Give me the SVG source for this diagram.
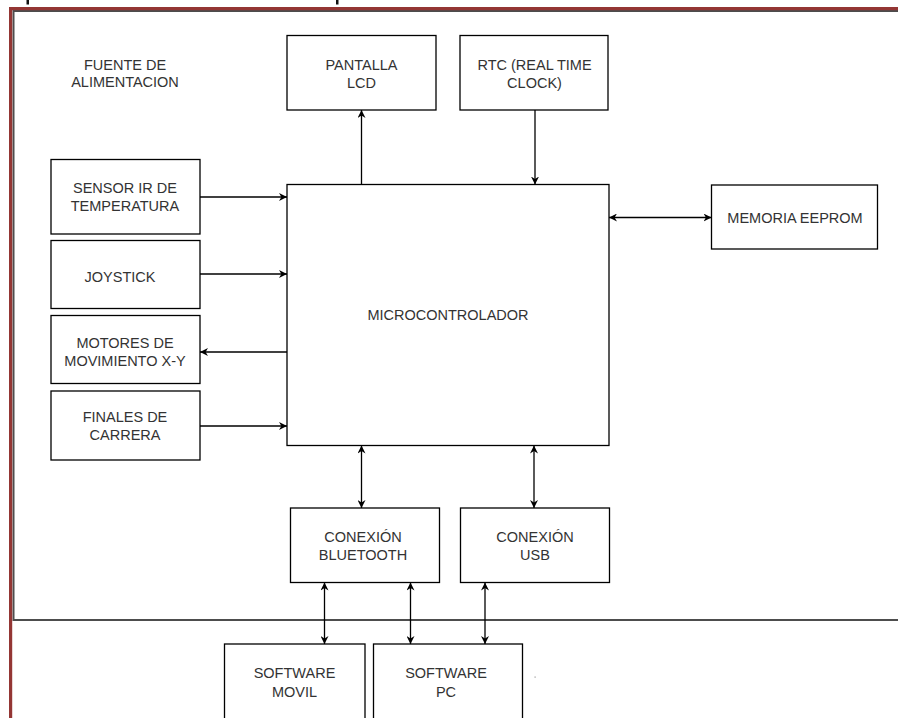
<svg xmlns="http://www.w3.org/2000/svg" width="898" height="718" viewBox="0 0 898 718">
<style>
.box{fill:#fff;stroke:#000;stroke-width:1.3}
.t{font-family:"Liberation Sans",Arial,sans-serif;font-size:14.5px;fill:#333;text-anchor:middle}
.c{fill:none;stroke:#000;stroke-width:1.3}
</style>
<defs>
<marker id="ah" viewBox="0 0 10 10" refX="10" refY="5" markerWidth="8" markerHeight="8" markerUnits="userSpaceOnUse" orient="auto-start-reverse">
<path d="M0,0 L10,5 L0,10 L3,5 z" fill="#000"/>
</marker>
</defs>
<rect width="898" height="718" fill="#fff"/>
<g id="frame">
<rect x="26.5" y="0" width="2.5" height="4.5" fill="#111"/>
<rect x="336" y="0" width="2.5" height="4.5" fill="#111"/>
<path d="M898 11 H13.5 V620 H898" fill="none" stroke="#4d4d4d" stroke-width="2"/>
<rect x="9" y="7" width="889" height="3.2" fill="#943634"/>
<rect x="9" y="7" width="3.2" height="711" fill="#943634"/>
<rect x="534.5" y="676.5" width="1.2" height="1.2" fill="#999"/>
</g>
<g id="fuente">
<text class="t" x="125" y="69.5">FUENTE DE</text>
<text class="t" x="125" y="87">ALIMENTACION</text>
</g>
<g id="lcd">
<rect class="box" x="287" y="35.5" width="149" height="74.5"/>
<text class="t" x="361.5" y="69.5">PANTALLA</text>
<text class="t" x="361.5" y="88">LCD</text>
</g>
<g id="rtc">
<rect class="box" x="460" y="35.5" width="148" height="74.5"/>
<text class="t" x="534.5" y="69.5">RTC (REAL TIME</text>
<text class="t" x="534.5" y="88">CLOCK)</text>
</g>
<g id="micro">
<rect class="box" x="287" y="184.5" width="322" height="261"/>
<text class="t" x="448" y="320">MICROCONTROLADOR</text>
</g>
<g id="eeprom">
<rect class="box" x="711.5" y="185" width="166" height="64"/>
<text class="t" x="795" y="222.5">MEMORIA EEPROM</text>
</g>
<g id="sensor">
<rect class="box" x="51" y="159.5" width="149" height="74.5"/>
<text class="t" x="125" y="192.5">SENSOR IR DE</text>
<text class="t" x="125" y="211">TEMPERATURA</text>
</g>
<g id="joystick">
<rect class="box" x="51" y="240.5" width="149" height="68"/>
<text class="t" x="120" y="282">JOYSTICK</text>
</g>
<g id="motores">
<rect class="box" x="51" y="315.5" width="149" height="68"/>
<text class="t" x="125" y="348">MOTORES DE</text>
<text class="t" x="125" y="366">MOVIMIENTO X-Y</text>
</g>
<g id="finales">
<rect class="box" x="51" y="391" width="149" height="69"/>
<text class="t" x="125" y="422">FINALES DE</text>
<text class="t" x="125" y="439.5">CARRERA</text>
</g>
<g id="bluetooth">
<rect class="box" x="290.5" y="508" width="149" height="74.5"/>
<text class="t" x="363" y="542">CONEXIÓN</text>
<text class="t" x="363" y="559.5">BLUETOOTH</text>
</g>
<g id="usb">
<rect class="box" x="460.5" y="508" width="149" height="74.5"/>
<text class="t" x="535" y="542">CONEXIÓN</text>
<text class="t" x="535" y="559.5">USB</text>
</g>
<g id="movil">
<rect class="box" x="224.5" y="644" width="140.5" height="80"/>
<text class="t" x="294.5" y="678">SOFTWARE</text>
<text class="t" x="294.5" y="697">MOVIL</text>
</g>
<g id="pc">
<rect class="box" x="373.5" y="644" width="149" height="80"/>
<text class="t" x="446" y="678">SOFTWARE</text>
<text class="t" x="446" y="697">PC</text>
</g>
<g id="connectors">
<path class="c" d="M361.5 184.5 V110" marker-end="url(#ah)"/>
<path class="c" d="M535 110 V184.5" marker-end="url(#ah)"/>
<path class="c" d="M609 217.5 H711.5" marker-start="url(#ah)" marker-end="url(#ah)"/>
<path class="c" d="M200 197 H287" marker-end="url(#ah)"/>
<path class="c" d="M200 274 H287" marker-end="url(#ah)"/>
<path class="c" d="M287 352 H200" marker-end="url(#ah)"/>
<path class="c" d="M200 426 H287" marker-end="url(#ah)"/>
<path class="c" d="M361.5 445.5 V508" marker-start="url(#ah)" marker-end="url(#ah)"/>
<path class="c" d="M534 445.5 V508" marker-start="url(#ah)" marker-end="url(#ah)"/>
<path class="c" d="M324.5 582.5 V644" marker-start="url(#ah)" marker-end="url(#ah)"/>
<path class="c" d="M410.5 582.5 V644" marker-start="url(#ah)" marker-end="url(#ah)"/>
<path class="c" d="M485 582.5 V644" marker-start="url(#ah)" marker-end="url(#ah)"/>
</g>
</svg>
